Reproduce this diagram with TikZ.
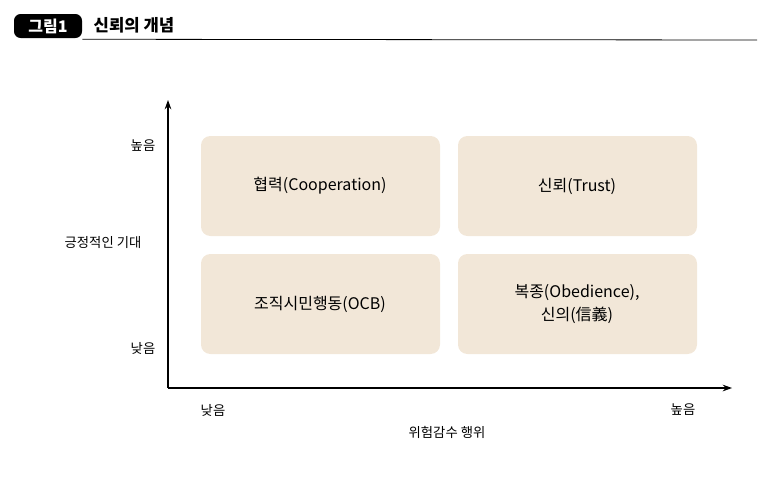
\documentclass[tikz,border=0pt]{standalone}
\usepackage{fontspec}
\setmainfont{Noto Sans CJK KR}
\usetikzlibrary{arrows.meta}
\definecolor{boxfill}{HTML}{F2E7D8}
\tikzset{
  cell/.style={fill=boxfill,rounded corners=7pt},
  celltext/.style={font=\fontsize{12}{17}\selectfont,align=center},
  axislabel/.style={font=\fontsize{10}{12}\selectfont},
  axis/.style={-{Stealth[length=7pt,width=5pt]},thick}
}
\begin{document}
\begin{tikzpicture}[x=0.75pt,y=-0.75pt]
  % Frame
  \useasboundingbox (0,0) rectangle (773,479);

  % Title
  \node[fill=black,text=white,rounded corners=5pt,minimum width=68pt*0.75,
        minimum height=24pt*0.75,font=\fontsize{12}{14}\selectfont\bfseries]
        (badge) at (48,26) {그림1};
  \node[anchor=west,font=\fontsize{12.5}{14}\selectfont\bfseries] (title) at (89,25) {신뢰의 개념};
  \draw[line width=0.6pt] (badge.south east) ++(0,1) -- (757,40);

  % Axes
  \coordinate (o) at (168,388);
  \coordinate (ytop) at (168,100);
  \coordinate (xend) at (732,388);
  \draw[axis] (o) -- (ytop);
  \draw[axis] (o) -- (xend);

  % Cells
  \draw[cell,draw=none] (201,136) rectangle (440,236);
  \draw[cell,draw=none] (458,136) rectangle (697,236);
  \draw[cell,draw=none] (201,254) rectangle (440,354);
  \draw[cell,draw=none] (458,254) rectangle (697,354);
  \node[celltext] (coop) at (320,186) {협력(Cooperation)};
  \node[celltext] (trust) at (577,186) {신뢰(Trust)};
  \node[celltext] (ocb) at (320,304) {조직시민행동(OCB)};
  \node[celltext] (obed) at (577,304) {복종(Obedience),\\신의(信義)};

  % Axis labels
  \node[axislabel] (yhigh) at (143,146) {높음};
  \node[axislabel] (ylow) at (143,348) {낮음};
  \node[axislabel] (ytitle) at (103,242) {긍정적인 기대};
  \node[axislabel] (xlow) at (213,410) {낮음};
  \node[axislabel] (xhigh) at (683,410) {높음};
  \node[axislabel] (xtitle) at (447,432) {위험감수 행위};
\end{tikzpicture}
\end{document}
